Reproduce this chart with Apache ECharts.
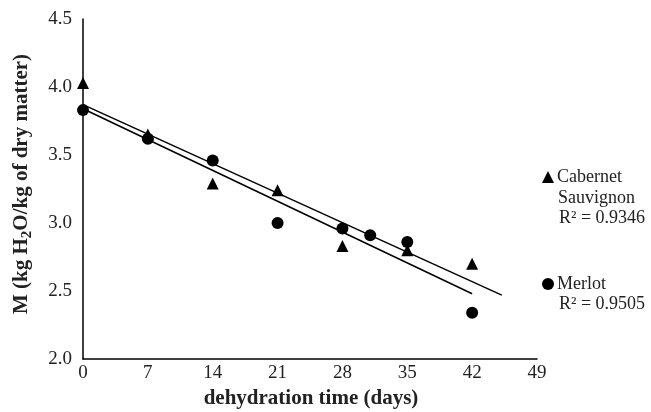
<!DOCTYPE html>
<html>
<head>
<meta charset="utf-8">
<script src="https://cdn.jsdelivr.net/npm/echarts@6/dist/echarts.min.js"></script>
<style>
html,body{margin:0;padding:0;background:#fff;}
#c{width:651px;height:412px;}
</style>
</head>
<body>
<div id="c"></div>
<script>
// Data
const cabDays = [0, 7, 14, 21, 28, 35, 42];
const cabM = [4.03, 3.65, 3.29, 3.24, 2.83, 2.80, 2.70];
const merDays = [0, 7, 14, 21, 28, 31, 35, 42];
const merM = [3.83, 3.62, 3.46, 3.00, 2.96, 2.91, 2.86, 2.34];
// Trendline endpoints (as drawn)
const cabTrendDays = [0, 45.2];
const cabTrendM = [3.87, 2.47];
const merTrendDays = [0, 42];
const merTrendM = [3.84, 2.48];
const xTicks = [0, 7, 14, 21, 28, 35, 42, 49];
const yTicks = [2.0, 2.5, 3.0, 3.5, 4.0, 4.5];
const cabName = 'Cabernet Sauvignon';
const merName = 'Merlot';
const cabR2 = 'R² = 0.9346';
const merR2 = 'R² = 0.9505';

const FONT = '"Liberation Serif", "Times New Roman", serif';
const zip = (xs, ys) => xs.map((x, i) => [x, ys[i]]);

const chart = echarts.init(document.getElementById('c'), null, {renderer: 'canvas'});
chart.setOption({
  animation: false,
  backgroundColor: '#fff',
  grid: {left: 83, right: 114, top: 19, bottom: 53, containLabel: false},
  xAxis: {
    type: 'value', min: xTicks[0], max: xTicks[xTicks.length - 1], interval: 7,
    axisLine: {show: true, lineStyle: {color: '#000', width: 1.5}},
    axisTick: {show: false},
    splitLine: {show: false},
    axisLabel: {color: '#222', fontFamily: FONT, fontSize: 19, margin: 5}
  },
  yAxis: {
    type: 'value', min: yTicks[0], max: yTicks[yTicks.length - 1], interval: 0.5,
    axisLine: {show: true, lineStyle: {color: '#000', width: 1.5}},
    axisTick: {show: false},
    splitLine: {show: false},
    axisLabel: {color: '#222', fontFamily: FONT, fontSize: 19, margin: 11,
      formatter: v => v.toFixed(1)}
  },
  series: [
    {name: cabName + ' trend', type: 'line', data: zip(cabTrendDays, cabTrendM), showSymbol: false,
      lineStyle: {color: '#000', width: 1.5}, silent: true, z: 2},
    {name: merName + ' trend', type: 'line', data: zip(merTrendDays, merTrendM), showSymbol: false,
      lineStyle: {color: '#000', width: 1.5}, silent: true, z: 2},
    {name: cabName, type: 'scatter', symbol: 'triangle', symbolSize: 12,
      itemStyle: {color: '#000', opacity: 1}, data: zip(cabDays, cabM), z: 3},
    {name: merName, type: 'scatter', symbol: 'circle', symbolSize: 12,
      itemStyle: {color: '#000', opacity: 1}, data: zip(merDays, merM), z: 4}
  ],
  graphic: [
    {type: 'text', x: 22, y: 184, rotation: Math.PI / 2,
      style: {
        text: '{b|M (kg H}{s|2}{b|O/kg of dry matter)}',
        align: 'center', verticalAlign: 'middle',
        rich: {
          b: {fontFamily: FONT, fontWeight: 'bold', fontSize: 21, fill: '#222'},
          s: {fontFamily: FONT, fontWeight: 'bold', fontSize: 15, fill: '#222', padding: [11, 0, 0, 0]}
        }
      }},
    {type: 'text', x: 311, y: 399,
      style: {text: 'dehydration time (days)', fontFamily: FONT, fontWeight: 'bold', fontSize: 21,
        fill: '#222', align: 'center', verticalAlign: 'middle'}},
    // legend
    {type: 'polygon', shape: {points: [[542, 183], [554, 183], [548, 171]]}, style: {fill: '#000'}},
    {type: 'text', x: 557, y: 177, style: {text: 'Cabernet', fontFamily: FONT, fontSize: 18, fill: '#222', verticalAlign: 'middle'}},
    {type: 'text', x: 558, y: 198, style: {text: 'Sauvignon', fontFamily: FONT, fontSize: 18, fill: '#222', verticalAlign: 'middle'}},
    {type: 'text', x: 559, y: 218, style: {text: cabR2, fontFamily: FONT, fontSize: 18, fill: '#222', verticalAlign: 'middle'}},
    {type: 'circle', shape: {cx: 548, cy: 284, r: 6}, style: {fill: '#000'}},
    {type: 'text', x: 557, y: 284, style: {text: merName, fontFamily: FONT, fontSize: 18, fill: '#222', verticalAlign: 'middle'}},
    {type: 'text', x: 559, y: 304, style: {text: merR2, fontFamily: FONT, fontSize: 18, fill: '#222', verticalAlign: 'middle'}}
  ]
});
</script>
</body>
</html>
